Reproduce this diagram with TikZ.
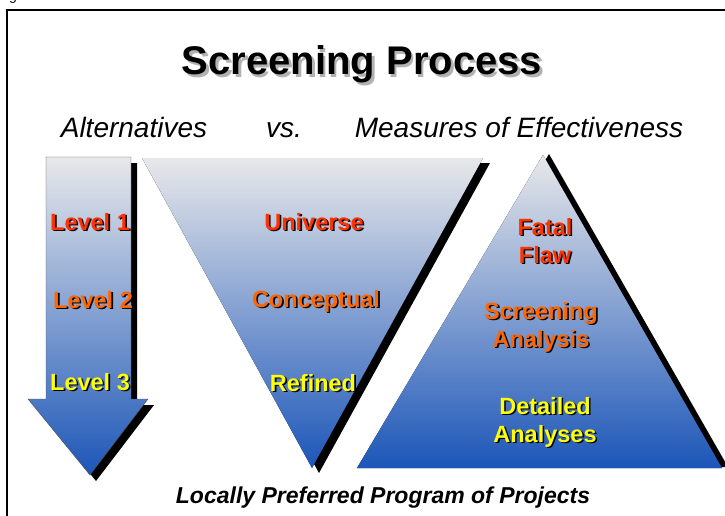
\documentclass[tikz,border=0pt]{standalone}
\usepackage{fontspec}
\setmainfont{Liberation Sans}
\definecolor{flawred}{HTML}{FF3300}
\definecolor{midorange}{HTML}{FF6600}
\definecolor{brightyellow}{HTML}{FFFF00}
\definecolor{topgray}{HTML}{E8E8EA}
\definecolor{midlilac}{HTML}{A9B0D4}
\definecolor{deepblue}{HTML}{1C56B8}
\newcommand{\shadowed}[2]{\makebox[0pt][l]{\hspace{1.6pt}\raisebox{-1.6pt}{\color{black}#2}}\textcolor{#1}{#2}}

\begin{document}
\begin{tikzpicture}[x=1pt, y=-1pt,
  lbl/.style={font=\fontsize{23.5}{28}\selectfont\bfseries, align=center},
  subtitle/.style={font=\fontsize{28}{32}\selectfont\itshape, anchor=base},
  grad/.style={top color=topgray, middle color=midlilac, bottom color=deepblue}]
\useasboundingbox (0,0) rectangle (725,516);
\node[font=\fontsize{14}{16}\selectfont, anchor=base] (fig) at (13,1) {g};
\draw[line width=1.5pt] (725,10) -| (7,516);
% title and headings
\node[font=\fontsize{40}{48}\selectfont\bfseries, anchor=base] (title) at (362,75)
  {\makebox[0pt][l]{\hspace{2.5pt}\raisebox{-2.5pt}{\color{gray!60}Screening Process}}Screening Process};
\node[subtitle] (alt) at (134,137) {Alternatives};
\node[subtitle] (vs) at (284,137) {vs.};
\node[subtitle] (moe) at (519,137) {Measures of Effectiveness};
% arrow
\fill[black, shift={(6,6)}] (46,157) -- (131,157) -- (131,399) -- (148,399) -- (90,475) -- (28,399) -- (46,399) -- cycle;
\draw[gray!60!black, grad] (46,157) -- (131,157) -- (131,399) -- (148,399) -- (90,475) -- (28,399) -- (46,399) -- cycle;
% funnel
\fill[black, shift={(7,5)}] (142,158) -- (483,158) -- (312,468) -- cycle;
\fill[grad] (142,158) -- (483,158) -- (312,468) -- cycle;
% pyramid
\fill[black, shift={(6,-1)}] (543,155) -- (722,468) -- (357,468) -- cycle;
\fill[grad] (543,155) -- (722,468) -- (357,468) -- cycle;
% labels
\node[lbl, anchor=base] (lv1) at (90,230) {\shadowed{flawred}{Level 1}};
\node[lbl, anchor=base] (lv2) at (93,308) {\shadowed{midorange}{Level 2}};
\node[lbl, anchor=base] (lv3) at (90,390) {\shadowed{brightyellow}{Level 3}};
\node[lbl, anchor=base] (univ) at (314,230) {\shadowed{flawred}{Universe}};
\node[lbl, anchor=base] (conc) at (316,307) {\shadowed{midorange}{Conceptual}};
\node[lbl, anchor=base] (refi) at (313,391) {\shadowed{brightyellow}{Refined}};
\node[lbl, anchor=base] (fatal) at (545,263) {\shadowed{flawred}{Fatal}\\\shadowed{flawred}{Flaw}};
\node[lbl, anchor=base] (scrn) at (541,347) {\shadowed{midorange}{Screening}\\\shadowed{midorange}{Analysis}};
\node[lbl, anchor=base] (detl) at (545,442) {\shadowed{brightyellow}{Detailed}\\\shadowed{brightyellow}{Analyses}};
\node[font=\fontsize{23}{28}\selectfont\bfseries\itshape, anchor=base] (lpp) at (383,503) {Locally Preferred Program of Projects};
\end{tikzpicture}
\end{document}
